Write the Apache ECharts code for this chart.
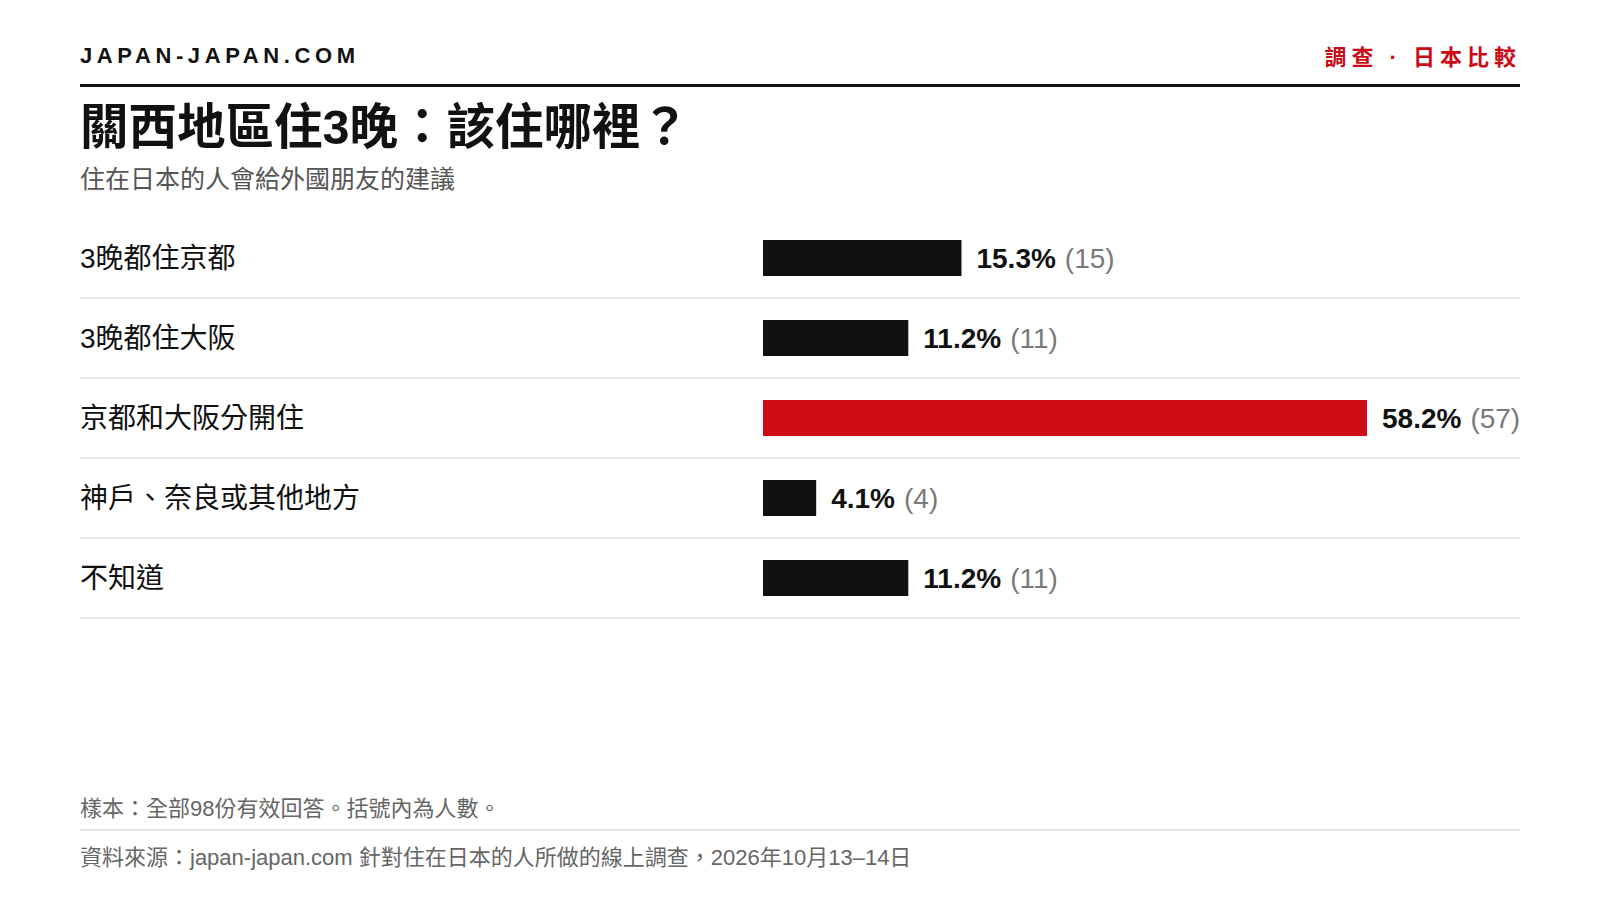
<!DOCTYPE html>
<html>
<head>
<meta charset="utf-8">
<script src="https://cdn.jsdelivr.net/npm/echarts@6/dist/echarts.min.js"></script>
<style>
  html, body { margin: 0; padding: 0; background: #ffffff; }
  #chart { width: 1600px; height: 900px; }
  text[fill="#121212"] { letter-spacing: 4.6px; }
  text[fill="#cc0a15"] { letter-spacing: 5px; }
</style>
</head>
<body>
<div id="chart"></div>
<script>
// ---- data ----
const categories = ['3晚都住京都', '3晚都住大阪', '京都和大阪分開住', '神戶、奈良或其他地方', '不知道'];
const percents = [15.3, 11.2, 58.2, 4.1, 11.2];
const counts = [15, 11, 57, 4, 11];

const brand = 'JAPAN-JAPAN.COM';
const tagline = '調查 · 日本比較';
const titleText = '關西地區住3晚：該住哪裡？';
const subtitleText = '住在日本的人會給外國朋友的建議';
const noteText = '樣本：全部98份有效回答。括號內為人數。';
const sourceText = '資料來源：japan-japan.com 針對住在日本的人所做的線上調查，2026年10月13–14日';

// ---- style ----
const FONT = '"Liberation Sans", Arial, "Noto Sans CJK TC", sans-serif';
const RED = '#d00c16';
const BLACK = '#121212';
const maxVal = Math.max(...percents);

const chart = echarts.init(document.getElementById('chart'), null, { renderer: 'svg' });

const option = {
  backgroundColor: '#ffffff',
  animation: false,
  textStyle: { fontFamily: FONT },
  grid: [
    { left: 763, width: 604, top: 218, height: 400, containLabel: false },
    { left: 80, right: 80, top: 218, height: 400, containLabel: false }
  ],
  xAxis: [
    {
      type: 'value', gridIndex: 0, min: 0, max: maxVal, show: false,
      breaks: [{ start: 30, end: 41.64, gap: 0 }],
      breakArea: { show: false }
    },
    { type: 'value', gridIndex: 1, min: 0, max: 1, show: false }
  ],
  yAxis: [
    {
      type: 'category', gridIndex: 0, data: categories, inverse: true,
      axisLine: { show: false }, axisTick: { show: false }, axisLabel: { show: false },
      splitLine: { show: false }
    },
    {
      type: 'category', gridIndex: 1, data: categories, inverse: true,
      axisLine: { show: false }, axisTick: { show: false },
      axisLabel: {
        show: true, inside: true, margin: 0, align: 'left',
        fontSize: 28, color: '#111111', fontFamily: FONT
      },
      splitLine: {
        show: true,
        lineStyle: { width: 2, color: ['rgba(0,0,0,0)', '#e9e9e9', '#e9e9e9', '#e9e9e9', '#e9e9e9', '#e9e9e9'] }
      }
    }
  ],
  series: [
    {
      type: 'bar', xAxisIndex: 0, yAxisIndex: 0,
      data: percents,
      barWidth: 36,
      itemStyle: {
        color: (p) => (p.value === maxVal ? RED : '#111111')
      },
      label: {
        show: true, position: 'right', distance: 15,
        formatter: (p) => '{p|' + p.value.toFixed(1) + '%}{n|(' + counts[p.dataIndex] + ')}',
        rich: {
          p: { fontSize: 28, fontWeight: 'bold', color: '#111111', fontFamily: FONT },
          n: { fontSize: 28, color: '#7a7a7a', fontFamily: FONT, padding: [0, 0, 0, 9] }
        }
      }
    }
  ],
  graphic: [
    { type: 'text', x: 80, y: 55, style: { text: brand, font: 'bold 22px ' + FONT, fill: BLACK, textAlign: 'left', textVerticalAlign: 'middle' } },
    { type: 'text', x: 1521, y: 57, style: { text: tagline, font: 'bold 22px ' + FONT, fill: '#cc0a15', textAlign: 'right', textVerticalAlign: 'middle' } },
    { type: 'line', shape: { x1: 80, y1: 85.5, x2: 1520, y2: 85.5 }, style: { stroke: '#111111', lineWidth: 3 } },
    { type: 'text', x: 80, y: 127, style: { text: titleText, font: 'bold 48.5px ' + FONT, fill: '#111111', textAlign: 'left', textVerticalAlign: 'middle' } },
    { type: 'text', x: 80, y: 179, style: { text: subtitleText, font: '25px ' + FONT, fill: '#555555', textAlign: 'left', textVerticalAlign: 'middle' } },
    { type: 'text', x: 80, y: 808, style: { text: noteText, font: '22px ' + FONT, fill: '#666666', textAlign: 'left', textVerticalAlign: 'middle' } },
    { type: 'line', shape: { x1: 80, y1: 830, x2: 1520, y2: 830 }, style: { stroke: '#dddddd', lineWidth: 1.5 } },
    { type: 'text', x: 80, y: 857, style: { text: sourceText, font: '22px ' + FONT, fill: '#666666', textAlign: 'left', textVerticalAlign: 'middle' } }
  ]
};

chart.setOption(option);
</script>
</body>
</html>
